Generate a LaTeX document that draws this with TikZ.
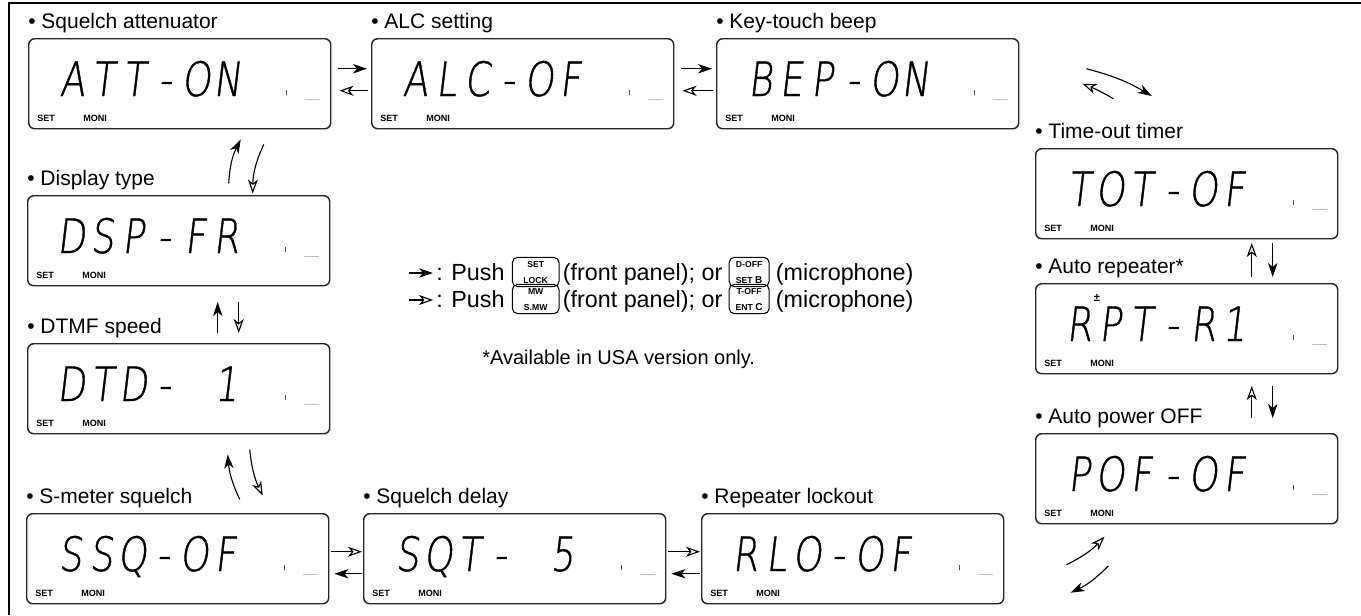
\documentclass[tikz,border=0pt]{standalone}
\usepackage{fontspec}
\setmainfont{Liberation Sans}
\newfontfamily\lcdfont[FakeSlant=0.12,FakeStretch=0.78,FakeBold=0.8]{DejaVu Sans ExtraLight}
\usetikzlibrary{arrows.meta,calc}

\def\lcdloop#1{\ifx#1\relax\else\makebox[23.25pt]{#1}\expandafter\lcdloop\fi}
\newcommand\lcdstr[1]{\lcdloop#1\relax}

\tikzset{
 lcdbox/.style={draw=black!85, line width=1.1pt, rounded corners=4.5pt, minimum width=226.5pt, minimum height=67.5pt, inner sep=0pt, anchor=north west},
 ttl/.style={font=\fontsize{15.75}{18}\selectfont, inner sep=0pt, anchor=base west},
 lcdtxt/.style={font=\lcdfont\fontsize{35.5}{38}\selectfont, inner sep=0pt, anchor=base west},
 setlbl/.style={font=\bfseries\fontsize{6.8}{7}\selectfont, inner sep=0pt, anchor=base west},
 tickmk/.style={line width=0.6pt, black!70},
 graymk/.style={line width=0.6pt, black!25},
 fa/.style={-{Stealth[length=10.5pt,width=7pt,inset=3pt]}, line width=0.85pt},
 oa/.style={-{Stealth[open,length=10.5pt,width=7.5pt,inset=3pt,fill=white]}, line width=0.85pt},
 keyb/.style={draw, line width=0.8pt, rounded corners=4pt, inner sep=0pt, minimum height=22pt, anchor=west},
 keyt/.style={font=\bfseries\fontsize{6.5}{7}\selectfont, inner sep=0pt, anchor=base},
 lg/.style={font=\fontsize{17.5}{20}\selectfont, inner sep=0pt, anchor=base west},
}

\newcommand\lcdpanel[5]{%
 \node[lcdbox] (#1) at (#2,#3) {};
 \node[ttl] (#1-title) at ($(#1.north west)+(0,-10)$) {\textbullet\ #4};
 \node[lcdtxt] (#1-lcd) at ($(#1.north west)+(28.5,58)$) {\lcdstr{#5}};
 \node[setlbl] (#1-set) at ($(#1.north west)+(9,83)$) {SET};
 \node[setlbl] (#1-moni) at ($(#1.north west)+(55,83)$) {MONI};
 \draw[tickmk] ($(#1.north west)+(258,52)$) -- ++(0,5);
 \draw[graymk] ($(#1.north west)+(277,61)$) -- ++(15,0);
}
% key cap: name, position, width, top text, bottom text
\newcommand\keycap[5]{%
 \node[keyb, minimum width=#3] (#1) at #2 {};
 \node[keyt] (#1-a) at ($(#1.center)+(0,-4.5)$) {#4};
 \node[keyt] (#1-b) at ($(#1.center)+(0,11.5)$) {#5};
}

\begin{document}
\begin{tikzpicture}[x=0.75pt,y=-0.75pt]
\useasboundingbox (0,0) rectangle (1361,615);
\draw[line width=0.9pt] (9,615) -- (9,3) -- (1361,3);

% top row
\lcdpanel{att}{28}{38}{Squelch attenuator}{ATT-ON}
\lcdpanel{alc}{371}{38}{ALC setting}{ALC-OF}
\lcdpanel{beep}{716}{38}{Key-touch beep}{BEP-ON}
% left column
\lcdpanel{disp}{27}{195}{Display type}{DSP-FR}
\lcdpanel{dtmf}{27}{343}{DTMF speed}{DTD-~1}
% bottom row
\lcdpanel{sm}{26}{513}{S-meter squelch}{SSQ-OF}
\lcdpanel{sqt}{363}{513}{Squelch delay}{SQT-~5}
\lcdpanel{rlo}{701}{513}{Repeater lockout}{RLO-OF}
% right column
\lcdpanel{time}{1035}{148}{Time-out timer}{TOT-OF}
\lcdpanel{rpt}{1035}{283}{Auto repeater*}{RPT-R1}
\lcdpanel{pof}{1035}{433}{Auto power OFF}{POF-OF}
\node[font=\bfseries\fontsize{8.5}{8.5}\selectfont, inner sep=0pt] (rpt-pm) at ($(rpt.north west)+(62,15)$) {±};

% top row arrows
\draw[fa] ($(att.east)+(7,-15)$) -- ($(alc.west)+(-4,-15)$);
\draw[oa] ($(alc.west)+(-3,7)$) -- ($(att.east)+(8,7)$);
\draw[fa] ($(alc.east)+(7,-15)$) -- ($(beep.west)+(-4,-15)$);
\draw[oa] ($(beep.west)+(-3,7)$) -- ($(alc.east)+(8,7)$);

% bottom row arrows
\draw[oa] ($(sm.east)+(2,-7)$) -- ($(sqt.west)+(-1,-7)$);
\draw[fa] ($(sqt.west)+(-1,15)$) -- ($(sm.east)+(5,15)$);
\draw[oa] ($(sqt.east)+(2,-7)$) -- ($(rlo.west)+(-1,-7)$);
\draw[fa] ($(rlo.west)+(-1,15)$) -- ($(sqt.east)+(5,15)$);

% left column arrows
\draw[fa] ($(att.south)+(49,54)$) to[bend left=12] ($(att.south)+(61,10)$);
\draw[oa] ($(att.south)+(84,15)$) to[bend right=12] ($(att.south)+(73,64)$);
\draw[fa] ($(dtmf.north)+(39,-10)$) -- ($(dtmf.north)+(39,-41)$);
\draw[oa] ($(dtmf.north)+(60,-41)$) -- ($(dtmf.north)+(60,-10)$);
\draw[fa] ($(dtmf.south)+(61,65)$) to[bend left=10] ($(dtmf.south)+(49,20)$);
\draw[oa] ($(dtmf.south)+(71,15)$) to[bend right=10] ($(dtmf.south)+(84,61)$);

% right column arrows
\draw[fa] ($(beep.east)+(67,-15)$) to[bend left=8] ($(time.north)+(-35,-52)$);
\draw[oa] ($(beep.east)+(94,15)$) to[bend right=4] ($(beep.east)+(63,0)$);
\draw[oa] ($(rpt.north)+(65,-6)$) -- ($(rpt.north)+(65,-40)$);
\draw[fa] ($(rpt.north)+(86,-40)$) -- ($(rpt.north)+(86,-6)$);
\draw[oa] ($(pof.north)+(65,-15)$) -- ($(pof.north)+(65,-47)$);
\draw[fa] ($(pof.north)+(86,-47)$) -- ($(pof.north)+(86,-15)$);
\draw[oa] ($(rlo.east)+(62,6)$) to[bend right=10] ($(rlo.east)+(100,-22)$);
\draw[fa] ($(rlo.east)+(104,7)$) to[bend left=10] ($(rlo.east)+(66,34)$);

% legend
\coordinate (la1) at (409,273);
\coordinate (lb1) at (433,273);
\draw[fa] (la1) -- (lb1);
\node[lg] (l1a) at (436,280) {: Push};
\keycap{k1}{($(l1a.base east)+(7,-8)$)}{35pt}{SET}{LOCK}
\node[lg] (l1b) at ($(k1.east |- l1a.base)+(3,0)$) {(front panel); or};
\keycap{k2}{($(l1b.base east)+(6,-8)$)}{30pt}{D-OFF}{SET {\fontsize{7.5}{7.5}\selectfont B}}
\node[lg] (l1c) at ($(k2.east |- l1a.base)+(6,0)$) {(microphone)};

\coordinate (la2) at (409,300);
\coordinate (lb2) at (433,300);
\draw[oa] (la2) -- (lb2);
\node[lg] (l2a) at (436,307) {: Push};
\keycap{k3}{($(l2a.base east)+(7,-8)$)}{35pt}{MW}{S.MW}
\node[lg] (l2b) at ($(k3.east |- l2a.base)+(3,0)$) {(front panel); or};
\keycap{k4}{($(l2b.base east)+(6,-8)$)}{30pt}{T-OFF}{ENT {\fontsize{7.5}{7.5}\selectfont C}}
\node[lg] (l2c) at ($(k4.east |- l2a.base)+(6,0)$) {(microphone)};

\node[font=\fontsize{15}{17}\selectfont, inner sep=0pt, anchor=base west] (note) at (482,364) {*Available in USA version only.};
\end{tikzpicture}
\end{document}
